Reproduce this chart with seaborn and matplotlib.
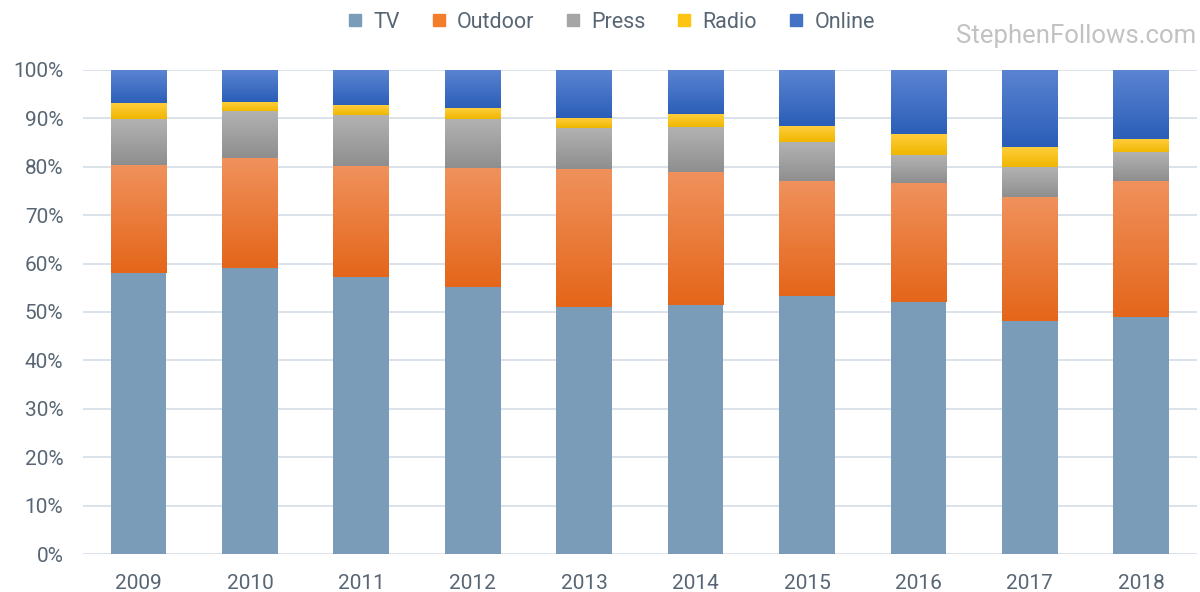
import numpy as np
import pandas as pd
import matplotlib
matplotlib.use("Agg")
import matplotlib.pyplot as plt
from matplotlib.colors import LinearSegmentedColormap
from matplotlib.lines import Line2D
import seaborn as sns

# data (share of spend, %)
years = ["2009", "2010", "2011", "2012", "2013", "2014", "2015", "2016", "2017", "2018"]
tv = [58.1, 59.1, 57.2, 55.1, 51.0, 51.4, 53.3, 52.1, 48.1, 49.0]
outdoor = [22.1, 22.6, 22.8, 24.5, 28.3, 27.3, 23.6, 24.4, 25.5, 28.0]
press = [9.6, 9.7, 10.7, 10.3, 8.6, 9.4, 8.2, 5.9, 6.4, 5.8]
radio = [3.2, 1.9, 1.9, 2.2, 2.0, 2.6, 3.3, 4.2, 4.0, 2.8]
online = [7.0, 6.7, 7.4, 7.9, 10.1, 9.3, 11.6, 13.4, 16.0, 14.4]

series = ["TV", "Outdoor", "Press", "Radio", "Online"]
values = [tv, outdoor, press, radio, online]

# (flat colour, gradient top, gradient bottom)
colors = {
    "TV": ("#7a9cb8", None, None),
    "Outdoor": ("#f37d2b", "#f0915c", "#e4661a"),
    "Press": ("#a5a5a5", "#b2b2b2", "#8e8e8e"),
    "Radio": ("#fdc414", "#ffcd3c", "#efb700"),
    "Online": ("#4472c4", "#5b84d2", "#2b5eb8"),
}
text_col = "#586674"

sns.set_theme(style="white")
plt.rcParams["font.family"] = ["Roboto", "DejaVu Sans"]

df = pd.DataFrame({"year": years})
for name, vals in zip(series, values):
    df[name] = vals
tops = df[series].cumsum(axis=1)
bottoms = tops.shift(1, axis=1).fillna(0)

fig = plt.figure(figsize=(12, 5.92), dpi=100)
ax = fig.add_axes([0.069, 0.064, 0.9285, 0.818])

# draw cumulative bars from the top series down so lower layers sit on top
for k, name in enumerate(reversed(series)):
    z = 2 + 2 * k
    flat, c_top, c_bot = colors[name]
    sns.barplot(x=df["year"], y=tops[name], color=flat, width=0.5,
                linewidth=0, saturation=1, ax=ax, zorder=z)
    if c_top is not None:
        cmap = LinearSegmentedColormap.from_list(name, [c_bot, c_top])
        grad = np.linspace(0, 1, 64).reshape(-1, 1)
        for i in range(len(years)):
            ax.imshow(grad, cmap=cmap, aspect="auto", origin="lower",
                      extent=[i - 0.25, i + 0.25, bottoms.loc[i, name], tops.loc[i, name]],
                      zorder=z + 1, interpolation="bilinear")

ax.set_xlim(-0.5, len(years) - 0.5)
ax.set_ylim(0, 100)
ax.set_yticks(range(0, 101, 10))
ax.set_yticklabels([f"{v}%" for v in range(0, 101, 10)])
ax.set_xlabel("")
ax.set_ylabel("")
ax.grid(axis="y", color="#dce2ea", linewidth=1.4)
ax.set_axisbelow(True)
ax.grid(axis="x", visible=False)
for s in ax.spines.values():
    s.set_visible(False)
ax.tick_params(axis="both", length=0, labelsize=15, labelcolor=text_col)
ax.tick_params(axis="x", pad=14)
ax.tick_params(axis="y", pad=14)

handles = [Line2D([], [], marker="s", linestyle="", markersize=9,
                  color=(colors[n][0])) for n in series]
fig.legend(handles, series, loc="center", bbox_to_anchor=(0.507, 0.962), ncol=5,
           frameon=False, fontsize=15.5, labelcolor=text_col,
           handletextpad=0.25, handlelength=1.2, columnspacing=1.2)

fig.text(0.997, 0.94, "StephenFollows.com", ha="right", va="center",
         fontsize=18.5, color="#c2c2c2")

plt.savefig("out.png", dpi=100)
